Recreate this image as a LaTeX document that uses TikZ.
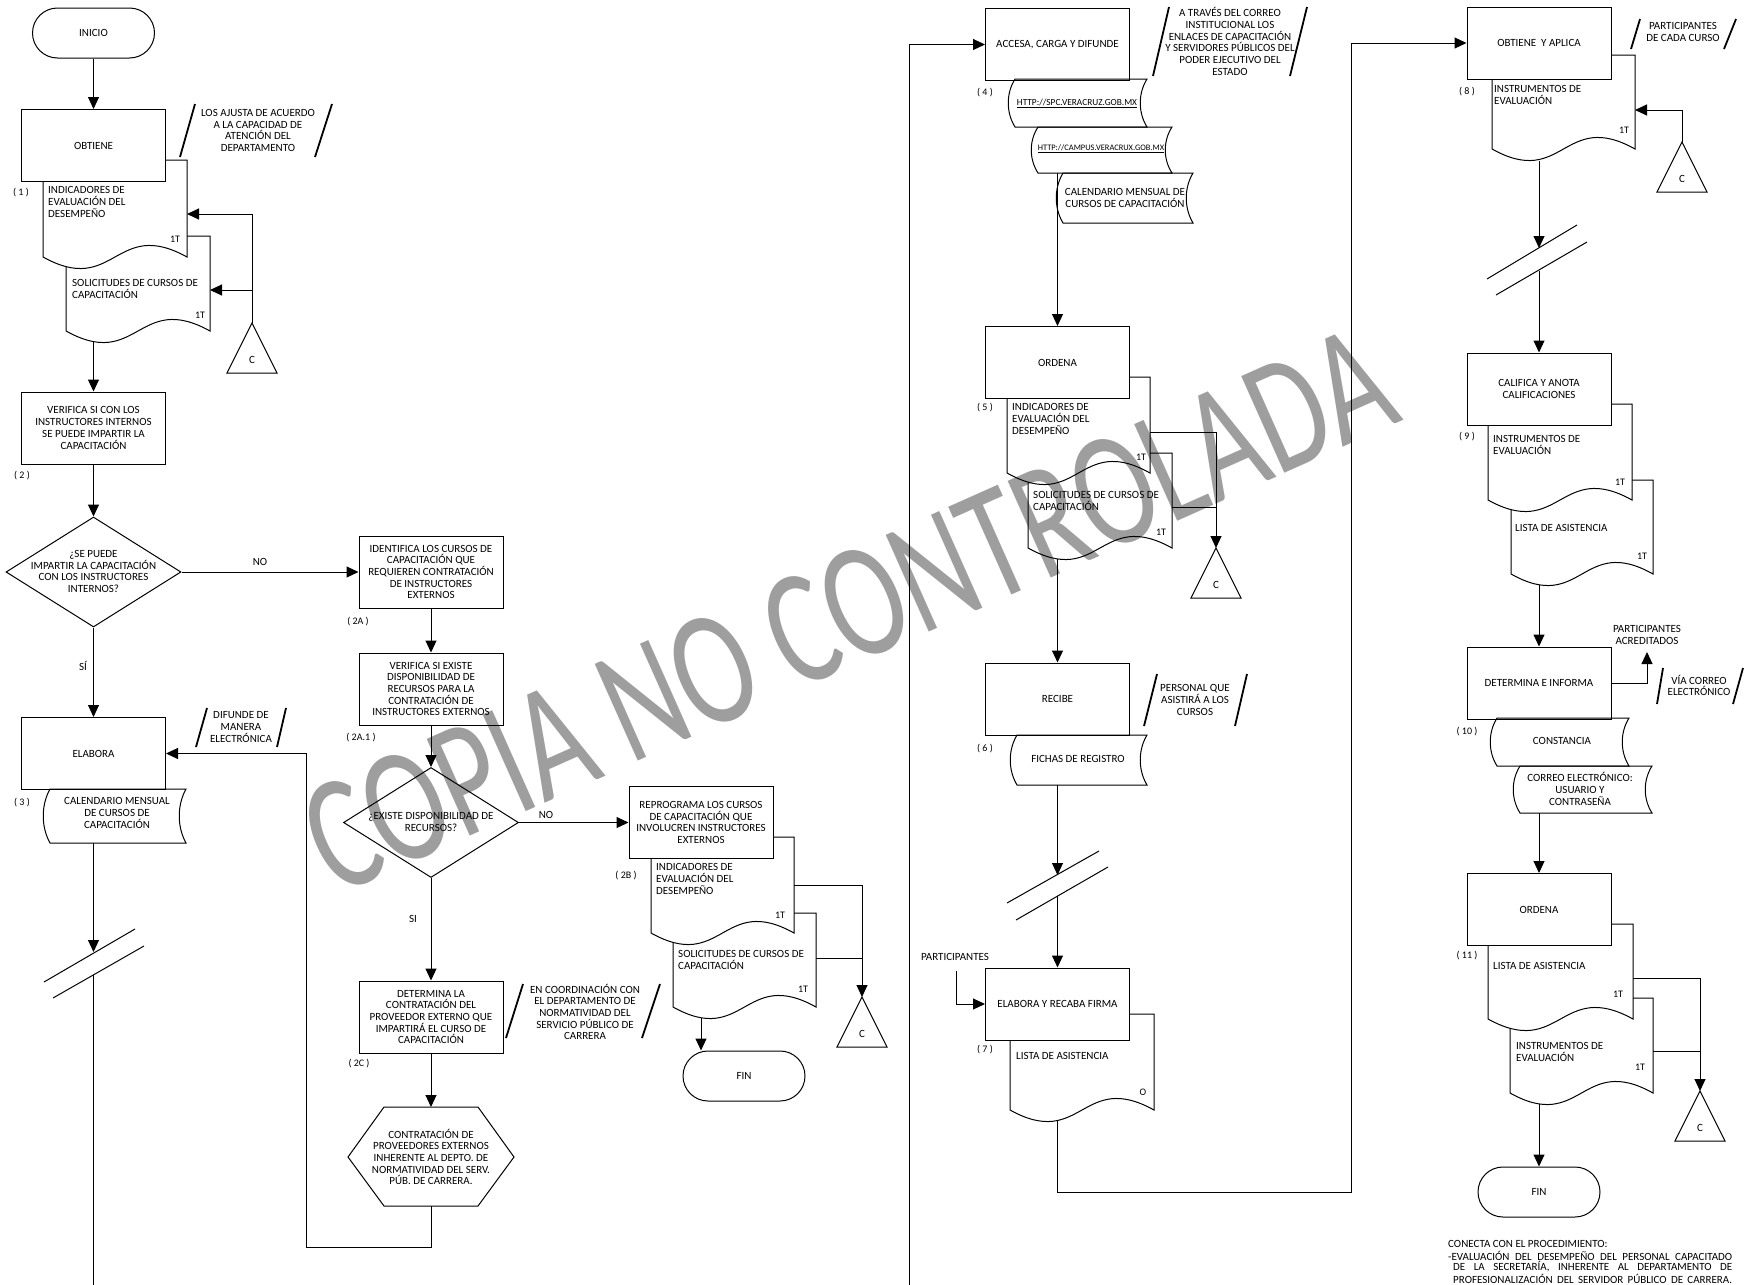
\documentclass[tikz,border=0pt]{standalone}
\usepackage{fontspec}
\setmainfont{Carlito}
\usetikzlibrary{arrows.meta,shapes.geometric,calc}
\definecolor{wmgray}{RGB}{158,158,158}
\newcommand\dgfs{\fontsize{11}{11.7}\selectfont}
\newcommand\dgsm{\fontsize{10}{12}\selectfont}
% document shape: #1 top-left visible x, #2 top y, #3 left x, #4 right x, #5 bottom y, #6 left side top y
\newcommand\docshp[6]{\draw[dgline] (#1,#2) -- (#4,#2) -- (#4,#5) .. controls ({(#3+#4)/2},{#5-40}) and ({(#3+#4)/2},{#5+40}) .. (#3,#5) -- (#3,#6);}
% stored data: #1 left x, #2 right x, #3 top y, #4 bottom y
\newcommand\stor[4]{\draw[dgline] (#1,#3) -- (#2,#3) .. controls ({#2-9},{#3+0.3*(#4-#3)}) and ({#2-9},{#4-0.3*(#4-#3)}) .. (#2,#4) -- (#1,#4) .. controls ({#1-9},{#4-0.3*(#4-#3)}) and ({#1-9},{#3+0.3*(#4-#3)}) .. cycle;}
% connector triangle: #1 name, apex (#2,#3)
\newcommand\ctri[3]{\coordinate (#1) at (#2,#3);
  \draw[dgline] (#1) -- ++(25,50) -- ++(-50,0) -- cycle;
  \node[dgctr] (#1t) at ($(#1)+(0,37)$) {C};}
\begin{document}
\begin{tikzpicture}[x=1pt,y=-1pt,
  dgline/.style={line width=1pt, draw=black},
  dgarr/.style={dgline, -{Triangle[length=12pt,width=11pt]}},
  dgbox/.style={dgline, rectangle, minimum width=144pt, minimum height=72pt, inner sep=2pt, align=center, font=\dgfs},
  dgterm/.style={dgline, rectangle, rounded corners=25pt, minimum width=122pt, minimum height=50pt, font=\dgfs},
  dgdia/.style={dgline, diamond, minimum width=175pt, minimum height=110pt, inner sep=0pt},
  dglbl/.style={font=\dgfs, inner sep=0pt, align=left},
  dgctr/.style={font=\dgfs, inner sep=0pt, align=center},
  dgnum/.style={font=\dgsm, inner sep=0pt},
  dgslash/.style={line width=1.8pt, draw=black}]
\useasboundingbox (0,0) rectangle (1759,1285);

% watermark
\node[rotate=24, text=wmgray, font=\fontsize{165}{165}\selectfont, inner sep=0pt] (wmark) at (848,610) {\scalebox{0.71}[1]{COPIA NO CONTROLADA}};

% ================= column 1 =================
\node[dgterm] (inicio) at (93.5,33) {INICIO};
\node[dgbox] (obt) at (93.5,145.5) {OBTIENE};
\draw[dgarr] (inicio) -- (obt);
\node[dgctr] (a1) at (258,130.5) {LOS AJUSTA DE ACUERDO\\A LA CAPACIDAD DE\\ATENCIÓN DEL\\DEPARTAMENTO};
\draw[dgslash] (180,157) -- (195,104);
\draw[dgslash] (315,157) -- (332,104);
\node[dgnum] (n1) at (21,193) {( 1 )};
\docshp{166}{160}{43}{187}{257}{182}
\node[dglbl, anchor=west] (doc1t) at (48,202) {INDICADORES DE\\EVALUACIÓN DEL\\DESEMPEÑO};
\node[dgnum] (doc1n) at (175,239) {1T};
\docshp{187}{236}{66}{210}{331}{266.6}
\node[dglbl, anchor=west] (doc2t) at (72,289) {SOLICITUDES DE CURSOS DE\\CAPACITACIÓN};
\node[dgnum] (doc2n) at (200,315) {1T};
\ctri{c1}{252}{323}
\coordinate (doc1r) at (187,214);
\coordinate (doc2r) at (210,290);
\draw[dgarr] (c1) |- (doc1r);
\draw[dgarr] (c1 |- doc2r) -- (doc2r);
\coordinate (doc2b) at (93.5,342);
\node[dgbox] (ver) at (93.5,428) {VERIFICA SI CON LOS\\INSTRUCTORES INTERNOS\\SE PUEDE IMPARTIR LA\\CAPACITACIÓN};
\draw[dgarr] (doc2b) -- (ver);
\node[dgnum] (n2) at (22,476) {( 2 )};
\node[dgdia] (d1) at (93.5,572) {};
\node[dgctr] (d1t) at (93.5,571.5) {¿SE PUEDE\\IMPARTIR LA CAPACITACIÓN\\CON LOS INSTRUCTORES\\INTERNOS?};
\draw[dgarr] (ver) -- (d1);
\node[dgbox] (ela) at (93.5,753.5) {ELABORA};
\draw[dgarr] (d1) -- (ela);
\node[dgctr] (si1) at (83,666) {SÍ};
\node[dgnum] (n3) at (22,803) {( 3 )};
\stor{50}{186}{789}{843}
\node[dgctr] (cal3) at (117,813) {CALENDARIO MENSUAL\\DE CURSOS DE\\CAPACITACIÓN};
\node[dgctr] (a2) at (241,727) {DIFUNDE DE\\MANERA\\ELECTRÓNICA};
\draw[dgslash] (196,747) -- (207,708);
\draw[dgslash] (277,747) -- (286,708);
\coordinate (cal3b) at (93.5,843);
\coordinate (brk1) at (93.5,952);
\draw[dgarr] (cal3b) -- (brk1);
\draw[dgline] (44,982) -- (135,929);
\draw[dgline] (53,998) -- (144,946);
\coordinate (brk1b) at (93.5,975);
\coordinate (end1) at (93.5,1285);
\draw[dgline] (brk1b) -- (end1);

% ================= column 2 =================
\node[dgbox] (ident) at (431,572) {IDENTIFICA LOS CURSOS DE\\CAPACITACIÓN QUE\\REQUIEREN CONTRATACIÓN\\DE INSTRUCTORES\\EXTERNOS};
\draw[dgarr] (d1) -- (ident);
\node[dgctr] (no1) at (260,562) {NO};
\node[dgnum] (n2a) at (358,622) {( 2A )};
\node[dgbox] (verex) at (431,689) {VERIFICA SI EXISTE\\DISPONIBILIDAD DE\\RECURSOS PARA LA\\CONTRATACIÓN DE\\INSTRUCTORES EXTERNOS};
\draw[dgarr] (ident) -- (verex);
\node[dgnum] (n2a1) at (361,738) {( 2A.1 )};
\node[dgdia] (d2) at (431,822.5) {};
\node[dgctr] (d2t) at (431,822) {¿EXISTE DISPONIBILIDAD DE\\RECURSOS?};
\draw[dgarr] (verex) -- (d2);
\node[dgbox] (reprog) at (701,822.5) {REPROGRAMA LOS CURSOS\\DE CAPACITACIÓN QUE\\INVOLUCREN INSTRUCTORES\\EXTERNOS};
\draw[dgarr] (d2) -- (reprog);
\node[dgctr] (no2) at (546,815) {NO};
\node[dgnum] (n2b) at (626,876) {( 2B )};
\docshp{773}{837}{651}{794}{933}{858.5}
\node[dglbl, anchor=west] (doc2bt) at (656,879) {INDICADORES DE\\EVALUACIÓN DEL\\DESEMPEÑO};
\node[dgnum] (doc2bn) at (780,915) {1T};
\docshp{794}{913}{673}{816}{1007}{942.4}
\node[dglbl, anchor=west] (doc2ct) at (678,960) {SOLICITUDES DE CURSOS DE\\CAPACITACIÓN};
\node[dgnum] (doc2cn) at (803,989) {1T};
\ctri{c2}{862}{997}
\coordinate (doc2br) at (794,885);
\coordinate (doc2cr) at (816,958);
\draw[dgarr] (doc2br) -| (c2);
\draw[dgline] (doc2cr) -- (c2 |- doc2cr);
\node[dgterm] (fin1) at (744,1076) {FIN};
\coordinate (doc2cb) at (701,1018);
\draw[dgarr] (doc2cb) -- (doc2cb |- fin1.north);
\node[dgbox] (determ) at (431,1017) {DETERMINA LA\\CONTRATACIÓN DEL\\PROVEEDOR EXTERNO QUE\\IMPARTIRÁ EL CURSO DE\\CAPACITACIÓN};
\draw[dgarr] (d2) -- (determ);
\node[dgctr] (si2) at (413,919) {SI};
\node[dgnum] (n2c) at (359,1064) {( 2C )};
\node[dgctr] (a3) at (585,1012) {EN COORDINACIÓN CON\\EL DEPARTAMENTO DE\\NORMATIVIDAD DEL\\SERVICIO PÚBLICO DE\\CARRERA};
\draw[dgslash] (506,1038) -- (523,984);
\draw[dgslash] (642,1038) -- (660,984);
\draw[dgline] (348,1157) -- (384,1107) -- (478,1107) -- (514,1157) -- (478,1206) -- (384,1206) -- cycle;
\node[dgctr] (hex) at (431,1157) {CONTRATACIÓN DE\\PROVEEDORES EXTERNOS\\INHERENTE AL DEPTO. DE\\NORMATIVIDAD DEL SERV.\\PÚB. DE CARRERA.};
\coordinate (hext) at (431,1107);
\coordinate (hexb) at (431,1206);
\draw[dgarr] (determ) -- (hext);
\coordinate (loopc) at (306,1247);
\draw[dgarr] (hexb) |- (loopc) -- (loopc |- ela.east) -- (ela.east);

% separator / link to ACCESA
\node[dgbox] (accesa) at (1057.5,44.5) {ACCESA, CARGA Y DIFUNDE};
\coordinate (sep) at (909,1285);
\draw[dgarr] (sep) |- (accesa.west);

% ================= column 3 =================
\node[dgctr] (a4) at (1230,41.5) {A TRAVÉS DEL CORREO\\INSTITUCIONAL LOS\\ENLACES DE CAPACITACIÓN\\Y SERVIDORES PÚBLICOS DEL\\PODER EJECUTIVO DEL\\ESTADO};
\draw[dgslash] (1153,76) -- (1169,7);
\draw[dgslash] (1290,76) -- (1307,7);
\node[dgnum] (n4) at (985,93) {( 4 )};
\stor{1015}{1147}{79}{127}
\node[dgctr, font=\fontsize{9.3}{11}\selectfont] (spc) at (1077,103) {\underline{HTTP://SPC.VERACRUZ.GOB.MX}};
\stor{1038}{1172}{127}{173}
\node[dgctr, font=\fontsize{8.4}{11}\selectfont] (campus) at (1101,149) {\underline{HTTP://CAMPUS.VERACRUX.GOB.MX}};
\stor{1063}{1193}{173}{223}
\node[dgctr] (cal4) at (1125,198) {CALENDARIO MENSUAL DE\\CURSOS DE CAPACITACIÓN};
\node[dgbox] (ordena5) at (1057.5,362.5) {ORDENA};
\coordinate (campusb) at (1057.5,173);
\draw[dgarr] (campusb) -- (ordena5);
\node[dgnum] (n5) at (985,408) {( 5 )};
\docshp{1129}{377}{1007}{1150}{473}{398.5}
\node[dglbl, anchor=west] (doc5at) at (1012,419) {INDICADORES DE\\EVALUACIÓN DEL\\DESEMPEÑO};
\node[dgnum] (doc5an) at (1141,457) {1T};
\docshp{1150}{453}{1028}{1172}{548}{482.2}
\node[dglbl, anchor=west] (doc5bt) at (1033,501) {SOLICITUDES DE CURSOS DE\\CAPACITACIÓN};
\node[dgnum] (doc5bn) at (1161,532) {1T};
\ctri{c3}{1216}{548}
\coordinate (doc5ar) at (1150,432);
\coordinate (doc5br) at (1172,507);
\draw[dgarr] (doc5ar) -| (c3);
\draw[dgline] (doc5br) -- (c3 |- doc5br);
\node[dgbox] (recibe) at (1057.5,699) {RECIBE};
\coordinate (doc5bb) at (1057.5,559);
\draw[dgarr] (doc5bb) -- (recibe);
\node[dgctr] (a5) at (1195,700) {PERSONAL QUE\\ASISTIRÁ A LOS\\CURSOS};
\draw[dgslash] (1144,726) -- (1157,674);
\draw[dgslash] (1235,726) -- (1247,674);
\node[dgnum] (n6) at (985,749) {( 6 )};
\stor{1017}{1147}{735}{785}
\node[dgctr] (fichas) at (1078,759) {FICHAS DE REGISTRO};
\coordinate (fichasb) at (1057.5,785);
\coordinate (brk2) at (1057.5,875);
\draw[dgarr] (fichasb) -- (brk2);
\draw[dgline] (1007,903) -- (1099,851);
\draw[dgline] (1016,920) -- (1108,867);
\node[dgbox] (elabf) at (1057.5,1004) {ELABORA Y RECABA FIRMA};
\coordinate (brk2b) at (1057.5,896);
\draw[dgarr] (brk2b) -- (elabf);
\node[dgctr] (partic) at (955,957) {PARTICIPANTES};
\coordinate (partics) at (956,971);
\draw[dgarr] (partics) |- (elabf.west);
\node[dgnum] (n7) at (985,1050) {( 7 )};
\docshp{1129}{1014}{1010}{1154}{1110}{1040}
\node[dglbl, anchor=west] (doc7t) at (1016,1056) {LISTA DE ASISTENCIA};
\node[dgnum] (doc7n) at (1143,1092) {O};

% ================= column 4 =================
\node[dgbox] (obtap) at (1539,43) {OBTIENE\ \ Y APLICA};
\coordinate (doc7b) at (1057.5,1121);
\coordinate (loop2) at (1351,1192);
\draw[dgarr] (doc7b) |- (loop2) -- (loop2 |- obtap.west) -- (obtap.west);
\node[dgctr] (a6) at (1683,32) {PARTICIPANTES\\DE CADA CURSO};
\draw[dgslash] (1631,49) -- (1640,19);
\draw[dgslash] (1724,49) -- (1736,19);
\node[dgnum] (n8) at (1467,92) {( 8 )};
\docshp{1611}{55}{1492}{1635}{149}{79}
\node[dglbl, anchor=west] (doc8t) at (1494,95) {INSTRUMENTOS DE\\EVALUACIÓN};
\node[dgnum] (doc8n) at (1624,130) {1T};
\ctri{c4}{1682}{142}
\coordinate (doc8r) at (1635,110);
\draw[dgarr] (c4) |- (doc8r);
\coordinate (doc8b) at (1539,161);
\coordinate (brk3) at (1539,248);
\draw[dgarr] (doc8b) -- (brk3);
\draw[dgline] (1487,279) -- (1577,225);
\draw[dgline] (1496,295) -- (1587,242);
\node[dgbox] (calif) at (1539,389) {CALIFICA Y ANOTA\\CALIFICACIONES};
\coordinate (brk3b) at (1539,270.5);
\draw[dgarr] (brk3b) -- (calif);
\node[dgnum] (n9) at (1467,437) {( 9 )};
\docshp{1611}{404}{1488}{1632}{500}{425}
\node[dglbl, anchor=west] (doc9at) at (1493,445) {INSTRUMENTOS DE\\EVALUACIÓN};
\node[dgnum] (doc9an) at (1620,482) {1T};
\docshp{1632}{480}{1511}{1653}{574}{509.6}
\node[dglbl, anchor=west] (doc9bt) at (1515,528) {LISTA DE ASISTENCIA};
\node[dgnum] (doc9bn) at (1642,556) {1T};
\node[dgbox] (deter) at (1539,683) {DETERMINA E INFORMA};
\coordinate (doc9bb) at (1539,585);
\draw[dgarr] (doc9bb) -- (deter);
\coordinate (acred) at (1647,652);
\draw[dgarr] (deter.east) -| (acred);
\node[dgctr] (acredt) at (1647,635) {PARTICIPANTES\\ACREDITADOS};
\node[dgctr] (a7) at (1699,685.5) {VÍA CORREO\\ELECTRÓNICO};
\draw[dgslash] (1657,704) -- (1663,668);
\draw[dgslash] (1733,704) -- (1743,668);
\node[dgnum] (n10) at (1467,732) {( 10 )};
\stor{1497}{1629}{718}{766}
\node[dgctr] (const) at (1562,741) {CONSTANCIA};
\stor{1520}{1652}{766}{813}
\node[dgctr] (correo) at (1580,789) {CORREO ELECTRÓNICO:\\USUARIO Y\\CONTRASEÑA};
\node[dgbox] (ordena11) at (1539,909.5) {ORDENA};
\coordinate (correob) at (1539,813);
\draw[dgarr] (correob) -- (ordena11);
\node[dgnum] (n11) at (1467,956) {( 11 )};
\docshp{1611}{924}{1488}{1633}{1019}{945.5}
\node[dglbl, anchor=west] (doc11at) at (1493,966) {LISTA DE ASISTENCIA};
\node[dgnum] (doc11an) at (1618,994) {1T};
\docshp{1633}{998}{1510}{1653}{1093}{1028.4}
\node[dglbl, anchor=west] (doc11bt) at (1516,1052) {INSTRUMENTOS DE\\EVALUACIÓN};
\node[dgnum] (doc11bn) at (1640,1067) {1T};
\ctri{c5}{1700}{1091}
\coordinate (doc11ar) at (1633,978);
\coordinate (doc11br) at (1653,1051);
\draw[dgarr] (doc11ar) -| (c5);
\draw[dgline] (doc11br) -- (c5 |- doc11br);
\node[dgterm] (fin2) at (1539,1192) {FIN};
\coordinate (doc11bb) at (1539,1104);
\draw[dgarr] (doc11bb) -- (fin2);

% footer
\node[dglbl, anchor=west] (ft1) at (1448,1244) {CONECTA CON EL PROCEDIMIENTO:};
\node[dglbl, anchor=west] (ft2) at (1448,1255.5) {\makebox[284pt][s]{-EVALUACIÓN DEL DESEMPEÑO DEL PERSONAL CAPACITADO}};
\node[dglbl, anchor=west] (ft3) at (1453,1267) {\makebox[279pt][s]{DE LA SECRETARÍA, INHERENTE AL DEPARTAMENTO DE}};
\node[dglbl, anchor=west] (ft4) at (1453,1279) {\makebox[279pt][s]{PROFESIONALIZACIÓN DEL SERVIDOR PÚBLICO DE CARRERA.}};
\end{tikzpicture}
\end{document}
